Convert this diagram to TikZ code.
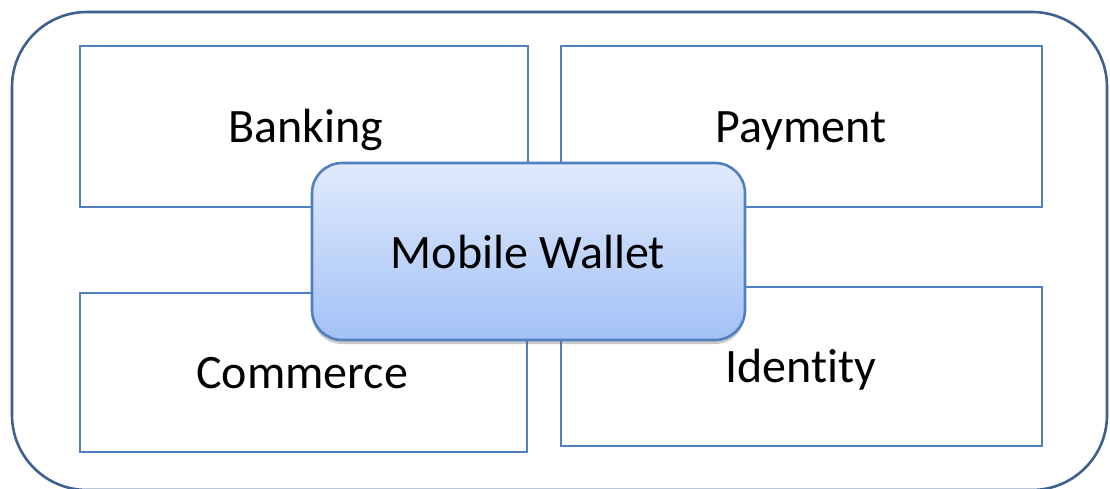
\documentclass[tikz,border=0pt]{standalone}
\usepackage{fontspec}
\setmainfont[Ligatures=NoCommon]{Carlito}
\usetikzlibrary{shadows}
\definecolor{outerblue}{RGB}{62,96,142}
\definecolor{boxblue}{RGB}{80,128,190}
\definecolor{gradtop}{RGB}{224,234,252}
\definecolor{gradbot}{RGB}{163,193,247}
\tikzset{
  outerframe/.style={draw=outerblue, line width=2.6pt, rounded corners=75pt},
  areabox/.style={draw=boxblue, line width=2.6pt},
  wallet/.style={draw=boxblue, line width=2.6pt, rounded corners=30pt,
    top color=gradtop, bottom color=gradbot,
    drop shadow={shadow xshift=0pt, shadow yshift=-4pt, opacity=0.35, fill=black!60}},
  lbl/.style={font=\fontsize{48}{52}\selectfont, anchor=base, inner sep=0pt}
}
\begin{document}
\begin{tikzpicture}[x=1pt,y=-1pt]
\useasboundingbox (0,0) rectangle (1110,489);
\begin{scope}
\clip (0,0) rectangle (1110,489);
\draw[outerframe] (12,12) rectangle (1107,490);
\end{scope}
\draw[areabox] (80,46) rectangle (528,207);
\draw[areabox] (561,46) rectangle (1042,207);
\draw[areabox] (80,293) rectangle (527,452);
\draw[areabox] (561,287) rectangle (1042,446);
\node[lbl] (banking) at (306,143) {Banking};
\node[lbl] (payment) at (801,143) {Payment};
\node[lbl] (commerce) at (302,388) {Commerce};
\node[lbl] (identity) at (801,382) {Identity};
\path[wallet] (312,163) rectangle (745,340);
\node[lbl] (mw) at (528,268) {Mobile Wallet};
\end{tikzpicture}
\end{document}
